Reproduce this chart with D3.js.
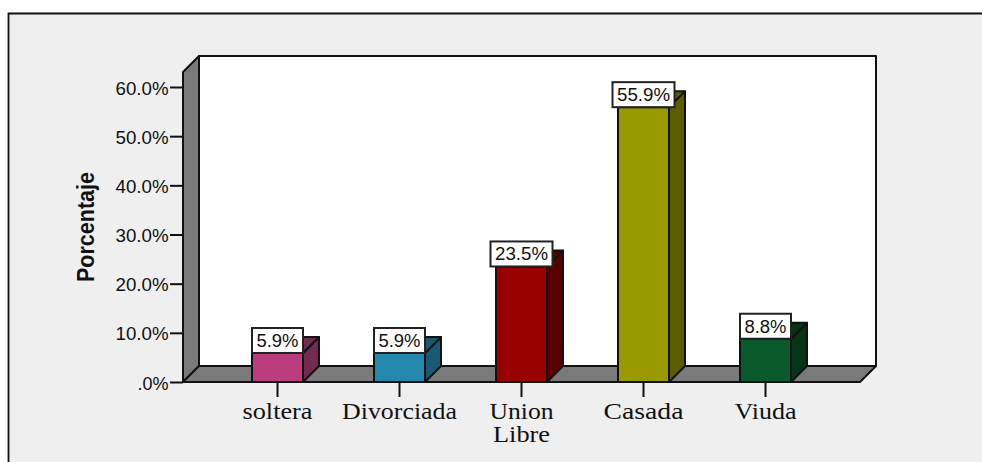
<!DOCTYPE html>
<html><head><meta charset="utf-8">
<script src="https://cdn.jsdelivr.net/npm/d3@7"></script>
<style>html,body{margin:0;padding:0;background:#fff;overflow:hidden}svg{display:block}</style>
</head><body><svg id="c" width="982" height="462"></svg>
<script>
const categories=["soltera","Divorciada","Union Libre","Casada","Viuda"];
const values=[5.9,5.9,23.5,55.9,8.8];
const frontColors=["#bb3d7e","#2288ae","#990000","#999900","#0a5a2d"];
const sideColors=["#722a50","#195a72","#590000","#5c5c00","#063419"];
const yTicks=[0,10,20,30,40,50,60];
const yTickLabels=[".0%","10.0%","20.0%","30.0%","40.0%","50.0%","60.0%"];
const yTitle="Porcentaje";

const svg=d3.select("#c");
const INK="#111";
const depth=16, front={l:183,r:860,b:382}, wallTop=56;
const y=d3.scaleLinear().domain([0,60]).range([front.b,87]);
const x=d3.scaleBand().domain(categories).range([252,791]).paddingInner(71/122).paddingOuter(0);
const bw=x.bandwidth();

svg.append("rect").attr("x",8.5).attr("y",14).attr("width",974).attr("height",448).attr("fill","#efefef");
svg.append("path").attr("d","M8.5,462V13.5H982").attr("fill","none").attr("stroke",INK).attr("stroke-width",1.8);

const sw=2;
const f=svg.append("g").attr("stroke",INK).attr("stroke-width",sw).attr("stroke-linejoin","round");
// back wall, side wall, floor
f.append("rect").attr("x",front.l+depth).attr("y",wallTop).attr("width",front.r-front.l).attr("height",front.b-depth-wallTop).attr("fill","#fff");
f.append("path").attr("d",`M${front.l},${front.b}L${front.l},${wallTop+depth}L${front.l+depth},${wallTop}L${front.l+depth},${front.b-depth}Z`).attr("fill","#7a7a7a");
f.append("path").attr("d",`M${front.l},${front.b}L${front.l+depth},${front.b-depth}L${front.r+depth},${front.b-depth}L${front.r},${front.b}Z`).attr("fill","#7a7a7a");

// y axis
const yAxis=d3.axisLeft(y).tickValues(yTicks).tickFormat((d,i)=>yTickLabels[i]).tickSize(13).tickPadding(1.5);
const ya=svg.append("g").attr("transform",`translate(${front.l},0)`).call(yAxis);
ya.select(".domain").remove();
ya.selectAll("line").attr("stroke",INK).attr("stroke-width",sw);
ya.selectAll("text").attr("fill",INK).attr("font-family","'Liberation Sans',Arial,sans-serif").attr("font-size",17.5)
  .attr("dy","0.40em").each(function(d,i){d3.select(this).attr("textLength",i===0?31:53).attr("lengthAdjust","spacingAndGlyphs");});

// bars
const bars=svg.append("g").attr("stroke",INK).attr("stroke-width",sw).attr("stroke-linejoin","round");
categories.forEach((c,i)=>{
  const X=x(c), T=y(values[i]), B=y(0);
  bars.append("path").attr("d",`M${X+bw},${B}L${X+bw+depth},${B-depth}L${X+bw+depth},${T-depth}L${X+bw},${T}Z`).attr("fill",sideColors[i]);
  bars.append("path").attr("d",`M${X},${T}L${X+depth},${T-depth}L${X+bw+depth},${T-depth}L${X+bw},${T}Z`).attr("fill",sideColors[i]);
  bars.append("rect").attr("x",X).attr("y",T).attr("width",bw).attr("height",B-T).attr("fill",frontColors[i]);
});

// x axis ticks and labels
const xa=svg.append("g").attr("transform",`translate(0,${front.b})`).call(d3.axisBottom(x).tickSize(15).tickFormat(""));
xa.select(".domain").remove();
xa.selectAll("line").attr("stroke",INK).attr("stroke-width",sw);
const labelWidths={"soltera":70,"Divorciada":115,"Union":64,"Libre":57,"Casada":80,"Viuda":62};
categories.forEach(c=>{
  c.split(" ").forEach((w,j)=>{
    svg.append("text").attr("x",x(c)+bw/2).attr("y",419+j*23).attr("text-anchor","middle")
      .attr("font-family","'Liberation Serif','Times New Roman',serif").attr("font-size",23).attr("fill",INK)
      .attr("textLength",labelWidths[w]).attr("lengthAdjust","spacingAndGlyphs").text(w);
  });
});

// data labels
const lab=svg.append("g");
categories.forEach((c,i)=>{
  const w=values[i]>=10?62:51, cx=x(c)+bw/2, T=y(values[i]);
  lab.append("rect").attr("x",cx-w/2).attr("y",T-25).attr("width",w).attr("height",25).attr("fill","#fff").attr("stroke","#222").attr("stroke-width",sw);
  lab.append("text").attr("x",cx).attr("y",T-6).attr("text-anchor","middle").attr("font-family","'Liberation Sans',Arial,sans-serif")
    .attr("font-size",17.5).attr("fill",INK).attr("textLength",values[i]>=10?53:42).attr("lengthAdjust","spacingAndGlyphs").text(values[i].toFixed(1)+"%");
});

// y title
svg.append("text").attr("transform","translate(94,227) rotate(-90)").attr("text-anchor","middle")
  .attr("font-family","'Liberation Sans',Arial,sans-serif").attr("font-weight","bold").attr("font-size",23).attr("fill",INK)
  .attr("textLength",110).attr("lengthAdjust","spacingAndGlyphs").text(yTitle);
</script></body></html>
